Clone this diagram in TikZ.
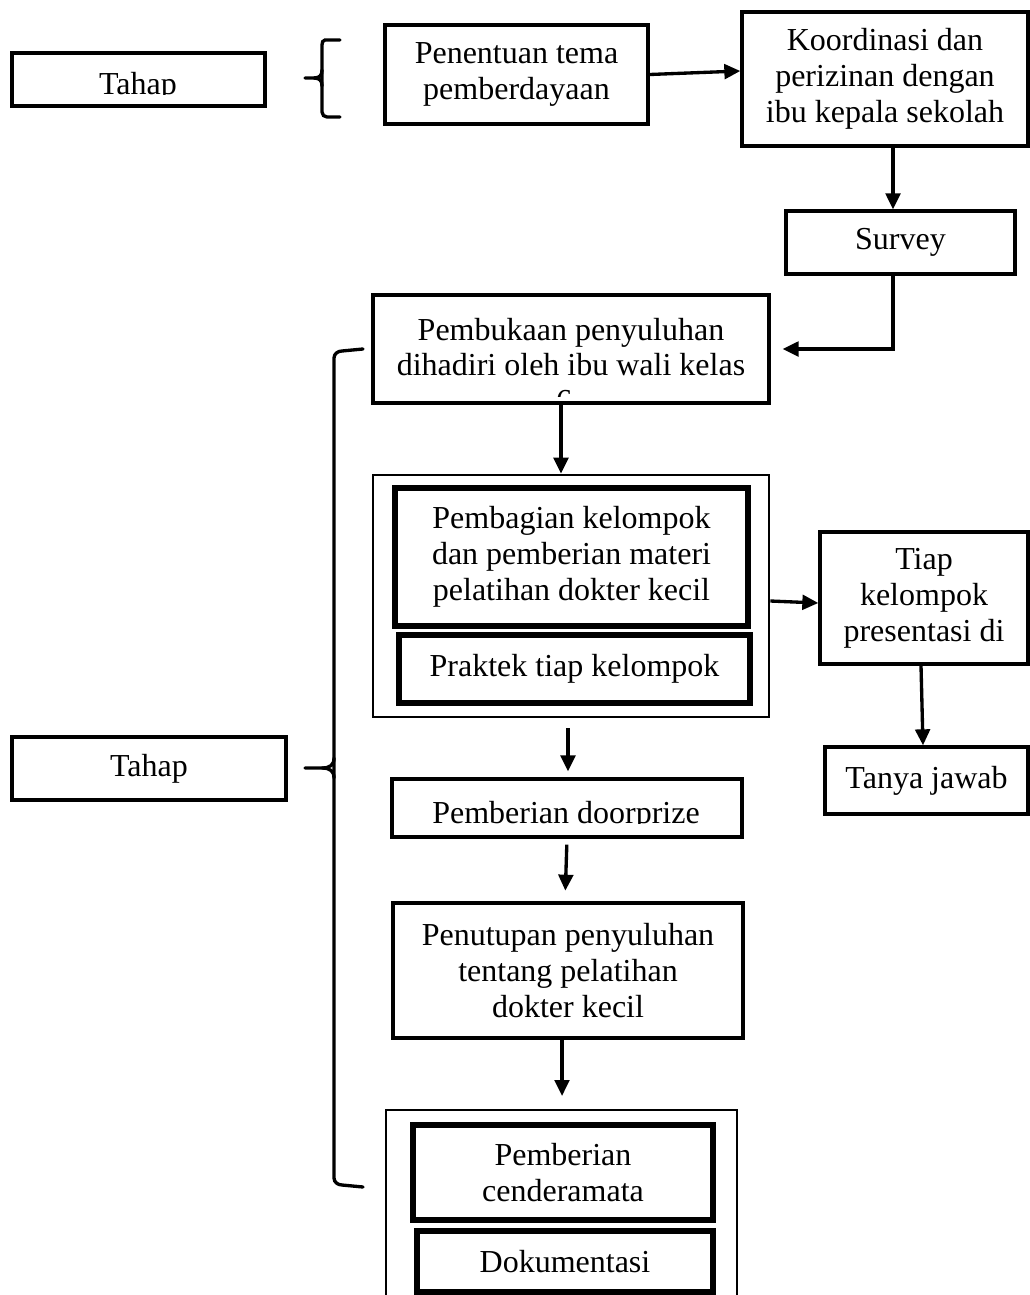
\documentclass[tikz,border=0pt]{standalone}
\usepackage{fontspec}
\setmainfont{Liberation Serif}
\usetikzlibrary{arrows.meta,calc}
\newcommand{\fsz}{\fontsize{24pt}{27pt}\selectfont}
\begin{document}
\begin{tikzpicture}[x=0.75pt,y=-0.75pt,
  sz/.style 2 args={minimum width=#1*0.75pt, minimum height=#2*0.75pt},
  box/.style={draw, line width=2.5pt, inner sep=0pt, align=center, font=\fsz},
  tbox/.style={box, line width=4pt},
  obox/.style={box, line width=2pt},
  txt/.style={inner sep=0pt, font=\fsz},
  arr/.style={line width=2.5pt, -{Triangle[length=12pt,width=11pt]}},
  brc/.style={line width=2.5pt, line cap=round}]
\clip (0,0) rectangle (1030,1295);
\fill[white] (0,0) rectangle (1030,1295);

% top stage
\node[box, sz={253}{53}] (tahapA) at (138.5,79.5) {};
\begin{scope}
  \clip (14,55) rectangle (263,94);
  \node[txt, anchor=base] (tahapAt) at (138,94) {Tahap};
\end{scope}
\draw[brc] (340,40) -- (325,40) to[out=180,in=90] (322,45) -- (322,112) to[out=-90,in=180] (327,117) -- (340,117);
\draw[brc] (305,78) -- (314,78) .. controls (320,78) and (322,75) .. (322,70);
\draw[brc] (314,78) .. controls (320,78) and (322,81) .. (322,86);

\node[box, sz={263}{99}] (pen) at (516.5,74.5) {Penentuan tema\\pemberdayaan};
\node[box, sz={286}{134}] (koo) at (885,79) {Koordinasi dan\\perizinan dengan\\ibu kepala sekolah};
\node[box, sz={229}{63}] (sur) at (900.5,242.5) {Survey};

% pembukaan
\node[box, sz={396}{108}] (pem) at (571,349) {};
\begin{scope}
  \clip (374,297) rectangle (767,396);
  \node[txt, anchor=base] (pemt1) at (571,340) {Pembukaan penyuluhan};
  \node[txt, anchor=base] (pemt2) at (571,375) {dihadiri oleh ibu wali kelas};
  \node[txt, anchor=base] (pemt3) at (564,411) {6};
\end{scope}

% group 1
\node[obox, sz={396}{242}] (grp1) at (571,596) {};
\node[tbox, sz={353}{138}] (ga) at (571.5,557) {Pembagian kelompok\\dan pemberian materi\\pelatihan dokter kecil};
\node[tbox, sz={351}{68}] (gb) at (574.5,669) {Praktek tiap kelompok};

\node[box, sz={208}{132}] (tiap) at (924,598) {Tiap\\kelompok\\presentasi di};
\node[box, sz={203}{67}] (tanya) at (926.5,780.5) {Tanya jawab};

% doorprize
\node[box, sz={350}{58}] (door) at (567,808) {};
\begin{scope}
  \clip (394,781) rectangle (740,823);
  \node[txt, anchor=base] (doort) at (566,823) {Pemberian doorprize};
\end{scope}

\node[box, sz={274}{63}] (tahapB) at (149,768.5) {Tahap};

\node[box, sz={350}{135}] (tut) at (568,970.5) {Penutupan penyuluhan\\tentang pelatihan\\dokter kecil};

% group 2
\node[obox, sz={351}{210}] (grp2) at (561.5,1215) {};
\node[tbox, sz={300}{95}] (gc) at (563,1172.5) {Pemberian\\cenderamata};
\node[tbox, sz={296}{61}] (gd) at (565,1261.5) {Dokumentasi};

% big brace
\draw[brc] (363,349) -- (342,351) to[out=180,in=90] (334,358) -- (334,1178) to[out=-90,in=180] (342,1185) -- (363,1187);
\draw[brc] (305,768) -- (322,768) .. controls (330,768) and (334,765) .. (334,758);
\draw[brc] (322,768) .. controls (330,768) and (334,771) .. (334,778);

% connectors
\draw[arr] (pen.east) -- ($(koo.west)+(0,-8)$);
\draw[arr] ($(koo.south)+(8,0)$) -- ($(sur.north)+(-7.5,0)$);
\draw[arr, shorten >=9pt] ($(sur.south)+(-7.5,0)$) |- (pem.east);
\draw[arr] ($(pem.south)+(-10,0)$) -- ($(grp1.north)+(-10,0)$);
\draw[arr] ($(grp1.east)+(0,5)$) -- ($(tiap.west)+(0,5)$);
\draw[arr] ($(tiap.south)+(-3,0)$) -- ($(tanya.north)+(-3.5,0)$);
\draw[arr, shorten <=7.5pt, shorten >=4.5pt] ($(grp1.south)+(-3,0)$) -- ($(door.north)+(1,0)$);
\draw[arr, shorten <=4.5pt, shorten >=8pt] ($(door.south)+(0,0)$) -- ($(tut.north)+(-3,0)$);
\draw[arr, shorten >=9.5pt] ($(tut.south)+(-6,0)$) -- ($(grp2.north)+(0.5,0)$);
\end{tikzpicture}
\end{document}
